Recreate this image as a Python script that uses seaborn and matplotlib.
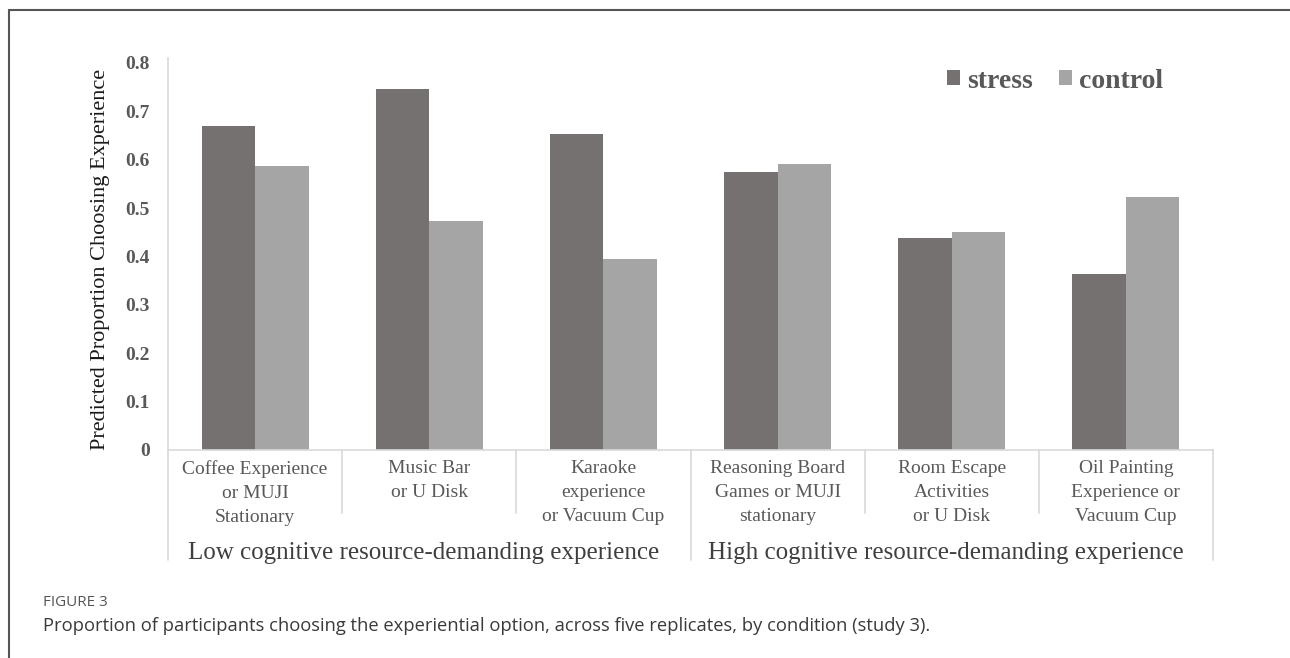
import matplotlib
matplotlib.use("Agg")
import matplotlib.pyplot as plt
from matplotlib.lines import Line2D
import matplotlib.transforms as mtransforms
import pandas as pd
import seaborn as sns

# Choice options (two lines per option pair) and the two predicted proportions
options = [
    "Coffee Experience\nor MUJI\nStationary",
    "Music Bar\nor U Disk",
    "Karaoke\nexperience\nor Vacuum Cup",
    "Reasoning Board\nGames or MUJI\nstationary",
    "Room Escape\nActivities\nor U Disk",
    "Oil Painting\nExperience or\nVacuum Cup",
]
stress = [0.669, 0.746, 0.652, 0.574, 0.438, 0.363]
control = [0.586, 0.474, 0.394, 0.591, 0.450, 0.522]
conditions = ["stress", "control"]
groups = ["Low cognitive resource-demanding experience",
          "High cognitive resource-demanding experience"]
y_ticks = [0, 0.1, 0.2, 0.3, 0.4, 0.5, 0.6, 0.7, 0.8]
y_tick_labels = ["0", "0.1", "0.2", "0.3", "0.4", "0.5", "0.6", "0.7", "0.8"]

df = pd.DataFrame({
    "option": options * 2,
    "proportion": stress + control,
    "condition": ["stress"] * len(options) + ["control"] * len(options),
})

sns.set_style("white")
plt.rcParams["font.family"] = ["Liberation Serif", "DejaVu Serif"]

W, H = 1290, 658
fig = plt.figure(figsize=(W / 100, H / 100), dpi=100)
ax = fig.add_axes([168 / W, 1 - 450 / H, (1213 - 168) / W, (450 - 58) / H])

sns.barplot(data=df, x="option", y="proportion", hue="condition",
            order=options, hue_order=conditions,
            palette=["#767171", "#a5a5a5"], saturation=1,
            width=0.614, gap=0, errorbar=None, linewidth=0, ax=ax)

ax.set_xlim(-0.5, len(options) - 0.5)
ax.set_ylim(0, 0.81)
ax.set_yticks(y_ticks)
ax.set_yticklabels(y_tick_labels, fontweight="bold", fontsize=14, color="#595959")
ax.tick_params(axis="y", length=0, pad=13)
ax.tick_params(axis="x", length=0, pad=7.5)
for lbl in ax.get_xticklabels():
    lbl.set_fontsize(14)
    lbl.set_color("#595959")
    lbl.set_linespacing(1.52)
ax.set_xlabel("")
ax.set_ylabel("")

for side in ["top", "right"]:
    ax.spines[side].set_visible(False)
for side in ["left", "bottom"]:
    ax.spines[side].set_color("#d9d9d9")
    ax.spines[side].set_linewidth(1.2)

# Category separators below the axis (short) and group separators (long)
trans = mtransforms.blended_transform_factory(ax.transData, ax.transAxes)
short_drop = -(513 - 450) / (450 - 58)
long_drop = -(560 - 450) / (450 - 58)
n = len(options)
for i in range(n + 1):
    xb = i - 0.5
    bottom = long_drop if i in (0, n // 2, n) else short_drop
    ax.add_line(Line2D([xb, xb], [0, bottom], transform=trans, color="#d9d9d9",
                       lw=1.2, clip_on=False))

# Group captions under the category labels
group_y = -(553 - 450) / (450 - 58)
nudge = mtransforms.ScaledTranslation(-6 / 100, 0, fig.dpi_scale_trans)
for g, name in enumerate(groups):
    center = (n // 2) * g + (n // 2 - 1) / 2
    ax.text(center, group_y, name, transform=trans + nudge, ha="center", va="center",
            fontsize=18, color="#3f3f3f")

fig.text(101 / W, 1 - 259 / H, "Predicted Proportion Choosing Experience",
         rotation=90, ha="center", va="center", fontsize=16, color="#1a1a1a")

# Legend
leg = ax.legend(loc="center left", bbox_to_anchor=(947 / W, 1 - 81 / H),
                bbox_transform=fig.transFigure, ncol=2, frameon=False,
                borderpad=0, borderaxespad=0, handlelength=0.47,
                handleheight=0.47, handletextpad=0.25, columnspacing=0.94,
                prop={"family": "Liberation Serif", "weight": "bold", "size": 20})
for t in leg.get_texts():
    t.set_color("#595959")

# Page frame and figure caption
fig.add_artist(Line2D([9 / W, 1.0], [1 - 10 / H, 1 - 10 / H], transform=fig.transFigure,
                      color="#555555", lw=1.5))
fig.add_artist(Line2D([9 / W, 9 / W], [0, 1 - 10 / H], transform=fig.transFigure,
                      color="#555555", lw=1.5))
fig.text(43 / W, 1 - 603 / H, "FIGURE 3", ha="left", va="center",
         fontsize=11, color="#555555", family=["Open Sans", "DejaVu Sans"])
fig.text(43 / W, 1 - 626 / H,
         "Proportion of participants choosing the experiential option, across five "
         "replicates, by condition (study 3).",
         ha="left", va="center", fontsize=13.2, color="#3a3a3a",
         family=["Open Sans", "DejaVu Sans"])

fig.savefig("out.png", dpi=100, facecolor="white")
